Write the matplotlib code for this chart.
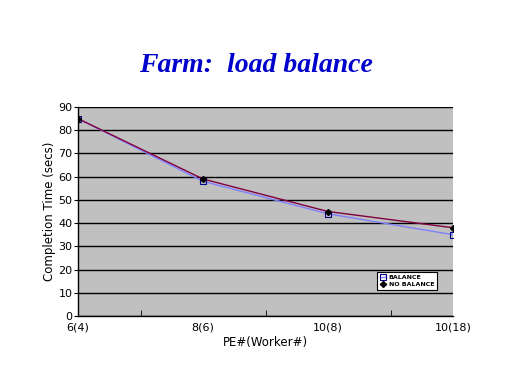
import matplotlib
matplotlib.use('Agg')
import matplotlib.pyplot as plt

# Data
categories = ['6(4)', '8(6)', '10(8)', '10(18)']
balance = [85, 58, 44, 35]
no_balance = [85, 59, 45, 38]
y_ticks = list(range(0, 100, 10))

fig = plt.figure(figsize=(5.12, 3.84), dpi=100)
fig.patch.set_facecolor('white')
ax = fig.add_axes([78/512, 1 - 316/384, (453-78)/512, (316-107)/384])
ax.set_facecolor('#c0c0c0')

x = range(len(categories))
ax.plot(x, balance, color='#8080ff', lw=1, marker='s', ms=4,
        mfc='none', mec='#000080', mew=0.8, label='BALANCE')
ax.plot(x, no_balance, color='#800040', lw=1, marker='D', ms=3,
        mfc='#000000', mec='#000000', label='NO BALANCE')

ax.set_xlim(0, len(categories) - 1)
ax.set_ylim(0, 90)
ax.set_yticks(y_ticks)
ax.set_xticks(list(x))
ax.set_xticklabels(categories)
ax.set_xticks([0.5, 1.5, 2.5], minor=True)
ax.tick_params(axis='x', which='major', length=0, labelsize=8, pad=5)
ax.tick_params(axis='x', which='minor', length=4, direction='in', color='black')
ax.tick_params(axis='y', length=3, labelsize=8, pad=1)
ax.yaxis.grid(True, color='black', lw=1)
ax.set_axisbelow(True)
for s in ['top', 'right']:
    ax.spines[s].set_visible(False)
for s in ['left', 'bottom']:
    ax.spines[s].set_linewidth(1)

ax.set_ylabel('Completion Time (secs)', fontsize=8.5, labelpad=2)
ax.set_xlabel('PE#(Worker#)', fontsize=8.5, labelpad=2)

leg = ax.legend(loc='lower left', bbox_to_anchor=(0.79, 0.11), fontsize=4.5,
                frameon=True, fancybox=False, edgecolor='black',
                facecolor='white', framealpha=1, handlelength=1,
                borderpad=0.4, labelspacing=0.3, handletextpad=0.4)
leg.get_frame().set_linewidth(0.8)
for t in leg.get_texts():
    t.set_fontweight('bold')

fig.text(0.5, 1 - 66/384, 'Farm:  load balance', ha='center', va='center',
         fontsize=20, fontweight='bold', fontstyle='italic',
         family='Liberation Serif', color='#0000cc')

fig.savefig('out.png', dpi=100)
